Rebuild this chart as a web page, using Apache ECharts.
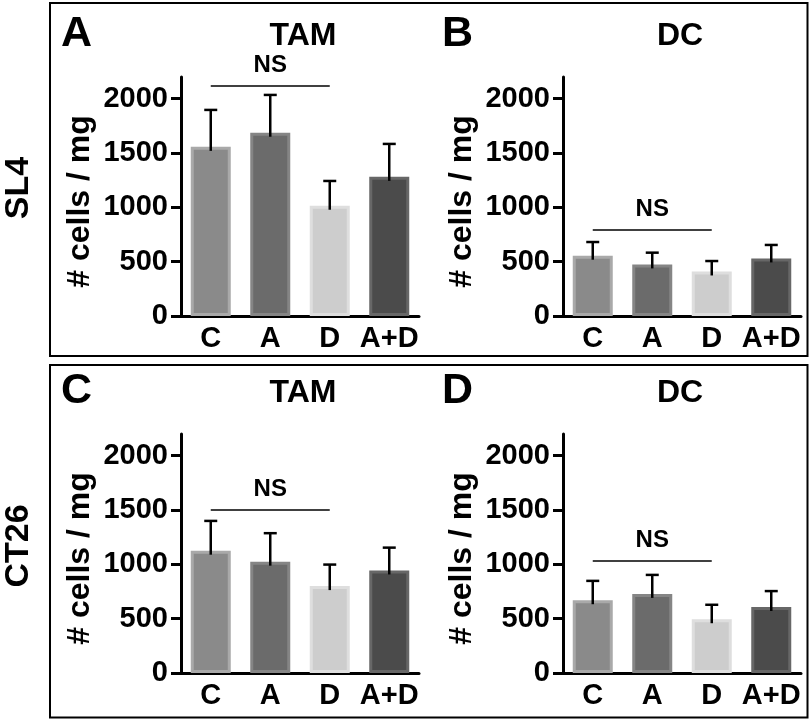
<!DOCTYPE html>
<html>
<head>
<meta charset="utf-8">
<script src="https://cdn.jsdelivr.net/npm/echarts@6/dist/echarts.min.js"></script>
<style>
html,body{margin:0;padding:0;background:#fff;}
#chart{width:812px;height:720px;}
</style>
</head>
<body>
<div id="chart"></div>
<script>
// ---- data ----
const categories = ['C', 'A', 'D', 'A+D'];
const yTicks = [0, 500, 1000, 1500, 2000];
const tamSL4Mean = [1557, 1687, 1015, 1281];
const tamSL4Sem  = [340, 348, 228, 303];
const dcSL4Mean  = [555, 475, 410, 530];
const dcSL4Sem   = [126, 108, 96, 124];
const tamCT26Mean = [1126, 1025, 800, 944];
const tamCT26Sem  = [274, 262, 198, 210];
const dcCT26Mean  = [670, 728, 495, 608];
const dcCT26Sem   = [178, 175, 133, 146];
// NS bracket: [fromCategoryIndex, toCategoryIndex, level]
const nsSL4Tam  = [0, 2, 2118];
const nsSL4Dc   = [0, 2, 792];
const nsCT26Tam = [0, 2, 1501];
const nsCT26Dc  = [0, 2, 1032];
const panelLetters = ['A', 'B', 'C', 'D'];
const panelTitles = ['TAM', 'DC', 'TAM', 'DC'];
const rowLabels = ['SL4', 'CT26'];
const yName = '# cells / mg';

const barFill   = ['#8a8a8a', '#6b6b6b', '#cdcdcd', '#4b4b4b'];
const barBorder = ['#a9a9a9', '#858585', '#dedede', '#676767'];

const FONT = '"Liberation Sans", Arial, Helvetica, sans-serif';

const panels = [
  {mean: tamSL4Mean, sem: tamSL4Sem, ns: nsSL4Tam, left: 181, top: 77},
  {mean: dcSL4Mean, sem: dcSL4Sem, ns: nsSL4Dc, left: 563, top: 77},
  {mean: tamCT26Mean, sem: tamCT26Sem, ns: nsCT26Tam, left: 181, top: 434},
  {mean: dcCT26Mean, sem: dcCT26Sem, ns: nsCT26Dc, left: 563, top: 434}
];

const grid = [], xAxis = [], yAxis = [], series = [];
panels.forEach((p, i) => {
  grid.push({left: p.left, top: p.top, width: 238, height: 239, containLabel: false});
  xAxis.push({
    type: 'category', gridIndex: i, data: categories,
    axisLine: {lineStyle: {color: '#000', width: 3}},
    axisTick: {show: false},
    axisLabel: {color: '#000', fontSize: 29, fontWeight: 'bold', fontFamily: FONT, margin: 8, interval: 0}
  });
  yAxis.push({
    type: 'value', gridIndex: i, min: 0, max: 2200,
    name: yName, nameLocation: 'middle', nameGap: 85, nameRotate: 90,
    nameTextStyle: {color: '#000', fontSize: 32, fontWeight: 'bold', fontFamily: FONT, padding: [0, 10, 0, 0]},
    axisLine: {show: true, lineStyle: {color: '#000', width: 3}},
    axisTick: {show: true, length: 10, lineStyle: {color: '#000', width: 3}, customValues: yTicks},
    axisLabel: {color: '#000', fontSize: 29, fontWeight: 'bold', fontFamily: FONT, margin: 13, customValues: yTicks,
      formatter: v => String(v)},
    splitLine: {show: false}
  });
  series.push({
    type: 'bar', xAxisIndex: i, yAxisIndex: i, barWidth: 40,
    data: p.mean.map((v, k) => ({
      value: v,
      itemStyle: {color: barFill[k], borderColor: barBorder[k], borderWidth: 3}
    })),
    z: 2, silent: true
  });
  series.push({
    type: 'custom', xAxisIndex: i, yAxisIndex: i, z: 3, silent: true,
    data: p.mean.map((v, k) => [k, v, v + p.sem[k]]),
    encode: {x: 0, y: [1, 2]},
    renderItem: function (params, api) {
      const x = api.value(0);
      const a = api.coord([x, api.value(1)]);
      const b = api.coord([x, api.value(2)]);
      return {
        type: 'group',
        children: [
          {type: 'line', shape: {x1: a[0], y1: a[1] + 4, x2: b[0], y2: b[1]}, style: {stroke: '#000', lineWidth: 2.5}},
          {type: 'line', shape: {x1: b[0] - 6.5, y1: b[1], x2: b[0] + 6.5, y2: b[1]}, style: {stroke: '#000', lineWidth: 2.5}}
        ]
      };
    }
  });
  series.push({
    type: 'custom', xAxisIndex: i, yAxisIndex: i, z: 4, silent: true,
    data: [p.ns],
    encode: {x: [0, 1], y: 2},
    renderItem: function (params, api) {
      const a = api.coord([api.value(0), api.value(2)]);
      const b = api.coord([api.value(1), api.value(2)]);
      return {
        type: 'group',
        children: [
          {type: 'line', shape: {x1: a[0], y1: a[1], x2: b[0], y2: b[1]}, style: {stroke: '#000', lineWidth: 1.5}},
          {type: 'text', style: {text: 'NS', x: (a[0] + b[0]) / 2, y: a[1] - 9, align: 'center', verticalAlign: 'bottom',
            fill: '#000', font: 'bold 24px ' + FONT}}
        ]
      };
    }
  });
});

const graphic = [
  {type: 'rect', shape: {x: 50, y: 3, width: 757.5, height: 353}, style: {fill: 'none', stroke: '#000', lineWidth: 2}, silent: true},
  {type: 'rect', shape: {x: 50, y: 365, width: 757.5, height: 352.5}, style: {fill: 'none', stroke: '#000', lineWidth: 2}, silent: true}
];
const letterPos = [[61, 34], [442, 34], [61, 391], [442, 391]];
const titlePos = [[303, 36], [680, 36], [303, 393], [680, 393]];
panelLetters.forEach((t, i) => {
  graphic.push({type: 'text', x: letterPos[i][0], y: letterPos[i][1], silent: true,
    style: {text: t, fill: '#000', font: 'bold 43px ' + FONT, align: 'left', verticalAlign: 'middle'}});
  graphic.push({type: 'text', x: titlePos[i][0], y: titlePos[i][1], silent: true,
    style: {text: panelTitles[i], fill: '#000', font: 'bold 32px ' + FONT, align: 'center', verticalAlign: 'middle'}});
});
const rowPos = [[19, 188], [19, 546]];
rowLabels.forEach((t, i) => {
  graphic.push({type: 'text', x: rowPos[i][0], y: rowPos[i][1], rotation: Math.PI / 2, silent: true,
    style: {text: t, fill: '#000', font: 'bold 34px ' + FONT, align: 'center', verticalAlign: 'middle'}});
});

const chart = echarts.init(document.getElementById('chart'), null, {renderer: 'canvas'});
chart.setOption({
  backgroundColor: '#fff',
  animation: false,
  grid, xAxis, yAxis, series, graphic
});
</script>
</body>
</html>
